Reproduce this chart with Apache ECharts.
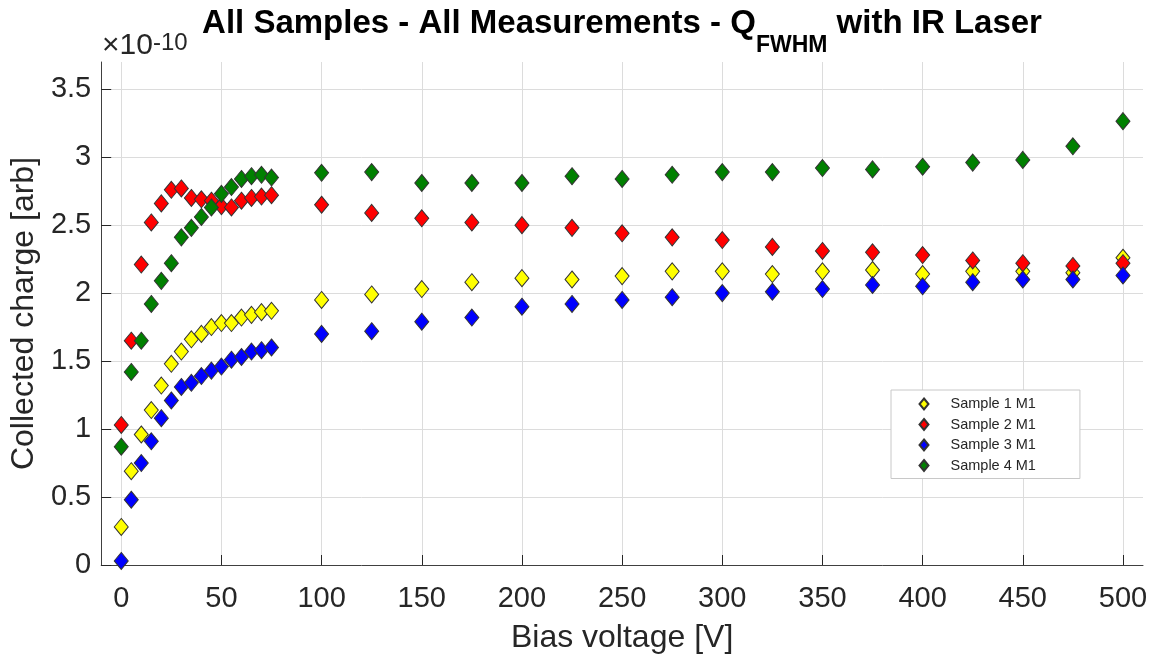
<!DOCTYPE html>
<html>
<head>
<meta charset="utf-8">
<script src="https://cdn.jsdelivr.net/npm/echarts@6/dist/echarts.min.js"></script>
<style>
html,body{margin:0;padding:0;background:#fff;}
#chart{width:1155px;height:659px;}
</style>
</head>
<body>
<div id="chart"></div>
<script>
const voltages = [0,5,10,15,20,25,30,35,40,45,50,55,60,65,70,75,100,125,150,175,200,225,250,275,300,325,350,375,400,425,450,475,500];
const sample1 = [0.28,0.69,0.96,1.14,1.32,1.48,1.57,1.66,1.70,1.75,1.78,1.78,1.82,1.84,1.86,1.87,1.95,1.99,2.03,2.08,2.11,2.10,2.125,2.16,2.16,2.14,2.16,2.17,2.14,2.16,2.16,2.15,2.26];
const sample2 = [1.03,1.65,2.21,2.52,2.66,2.76,2.77,2.70,2.69,2.68,2.64,2.63,2.68,2.70,2.71,2.72,2.65,2.59,2.55,2.52,2.50,2.48,2.44,2.41,2.39,2.34,2.31,2.30,2.28,2.24,2.22,2.20,2.22];
const sample3 = [0.03,0.48,0.75,0.91,1.08,1.21,1.31,1.34,1.39,1.43,1.46,1.51,1.53,1.57,1.58,1.60,1.70,1.72,1.79,1.82,1.90,1.92,1.95,1.97,2.00,2.01,2.03,2.06,2.05,2.08,2.10,2.10,2.13];
const sample4 = [0.87,1.42,1.65,1.92,2.09,2.22,2.41,2.48,2.56,2.63,2.73,2.78,2.84,2.86,2.87,2.85,2.885,2.89,2.81,2.81,2.81,2.86,2.84,2.87,2.89,2.89,2.92,2.91,2.93,2.96,2.98,3.08,3.265];
const seriesNames = ['Sample 1 M1','Sample 2 M1','Sample 3 M1','Sample 4 M1'];
const xTicks = [0,50,100,150,200,250,300,350,400,450,500];
const yTicks = [0,0.5,1,1.5,2,2.5,3,3.5];

const colors = ['#ffff00','#ff0000','#0000ff','#008000'];
const allData = [sample1, sample2, sample3, sample4];
const FONT = 'Liberation Sans';
const chart = echarts.init(document.getElementById('chart'), null, {renderer:'canvas'});

const series = allData.map((arr, i) => ({
  name: seriesNames[i],
  type: 'scatter',
  symbol: 'diamond',
  symbolSize: [14, 17],
  itemStyle: { color: colors[i], borderColor: '#333333', borderWidth: 1, opacity: 1 },
  emphasis: { disabled: true },
  data: voltages.map((v, j) => [v, arr[j]])
}));

chart.setOption({
  animation: false,
  backgroundColor: '#ffffff',
  title: {
    text: '{t|All Samples - All Measurements - Q}{s|FWHM}{t| with IR Laser}',
    left: 617, top: 2, textAlign: 'center',
    textStyle: {
      rich: {
        t: { fontSize: 33, fontWeight: 'bold', fontFamily: FONT, color: '#000', verticalAlign: 'top', lineHeight: 36 },
        s: { fontSize: 23, fontWeight: 'bold', fontFamily: FONT, color: '#000', verticalAlign: 'top', lineHeight: 25, padding: [27, 0, 0, 0] }
      }
    }
  },
  graphic: [{
    type: 'text', left: 102, top: 22,
    style: {
      text: '{a|×10}{b|-10}',
      rich: {
        a: { fontSize: 30, fontFamily: FONT, fill: '#262626', verticalAlign: 'bottom', lineHeight: 30, padding: [9, 0, 0, 0] },
        b: { fontSize: 24, fontFamily: FONT, fill: '#262626', verticalAlign: 'top', lineHeight: 22 }
      }
    }
  }],
  legend: {
    orient: 'vertical',
    left: 891, top: 390,
    padding: [6, 44, 5, 27.5],
    itemGap: 4.5,
    itemWidth: 43, itemHeight: 11,
    symbolKeepAspect: true,
    icon: 'path://M4.5,0L9,5.5L4.5,11L0,5.5Z',
    borderColor: '#c8c8c8', borderWidth: 1, backgroundColor: '#ffffff',
    textStyle: { fontSize: 14.5, fontFamily: FONT, color: '#262626', lineHeight: 16 },
    data: seriesNames
  },
  grid: { left: 101, right: 12, top: 62, bottom: 94, containLabel: false },
  xAxis: {
    type: 'value', min: -10, max: 510,
    name: 'Bias voltage [V]', nameLocation: 'middle', nameGap: 57,
    nameTextStyle: { fontSize: 32, fontFamily: FONT, color: '#262626' },
    axisLine: { show: true, onZero: false, lineStyle: { color: '#404040', width: 1 } },
    axisTick: { show: true, inside: true, length: 10, customValues: xTicks, lineStyle: { color: '#262626' } },
    axisLabel: { customValues: xTicks, fontSize: 29, fontFamily: FONT, color: '#262626', margin: 19 },
    splitLine: { show: true, customValues: xTicks, lineStyle: { color: '#dcdcdc', width: 1 } }
  },
  yAxis: {
    type: 'value', min: 0, max: 3.7,
    name: 'Collected charge [arb]', nameLocation: 'middle', nameGap: 50,
    nameTextStyle: { fontSize: 32, fontFamily: FONT, color: '#262626' },
    axisLine: { show: true, onZero: false, lineStyle: { color: '#404040', width: 1 } },
    axisTick: { show: true, inside: true, length: 10, customValues: yTicks, lineStyle: { color: '#262626' } },
    axisLabel: { customValues: yTicks, fontSize: 29, fontFamily: FONT, color: '#262626', margin: 10 },
    splitLine: { show: true, customValues: yTicks, lineStyle: { color: '#dcdcdc', width: 1 } }
  },
  series: series
});
</script>
</body>
</html>
